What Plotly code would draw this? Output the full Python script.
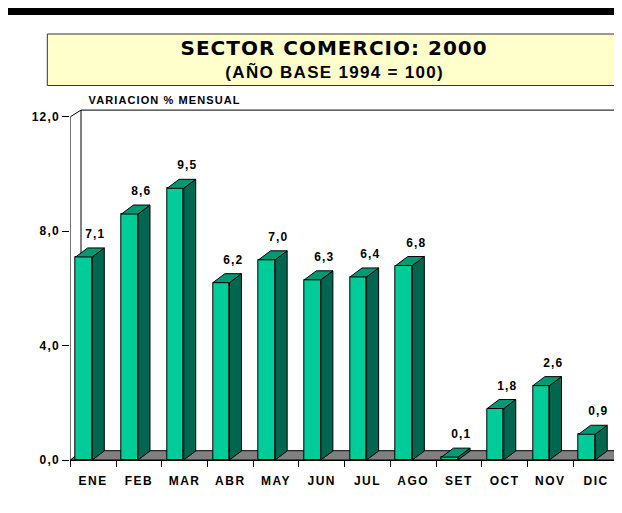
import plotly.graph_objects as go

# ---- data ----
months = ["ENE", "FEB", "MAR", "ABR", "MAY", "JUN", "JUL", "AGO", "SET", "OCT", "NOV", "DIC"]
values = [7.1, 8.6, 9.5, 6.2, 7.0, 6.3, 6.4, 6.8, 0.1, 1.8, 2.6, 0.9]
y_ticks = [0, 4, 8, 12]
y_tick_labels = ["0,0", "4,0", "8,0", "12,0"]

# ---- geometry / style ----
OFF = 8                          # page body margin
WIN_W, WIN_H = 622, 513
W, H = WIN_W - OFF, WIN_H - OFF  # figure size
X0PX, Y0PX = 70.3, 460.0         # window pixel of x=-0.5 and y=0
PX_X, PX_Y = 45.72, 28.6         # pixels per unit
TOPPX = 105.0
x_max = -0.5 + (WIN_W - X0PX) / PX_X
y_max = (Y0PX - TOPPX) / PX_Y


def px(xw):
    return (xw - OFF) / W


def py(yw):
    return (H - (yw - OFF)) / H


F_OFF, F_W = -0.382, 0.363       # front face offset/width
DX, DY = 12 / PX_X, 9 / PX_Y     # bar depth
WDX, WDY = 10.7 / PX_X, 6.7 / PX_Y  # wall depth
FDY = 9.3 / PX_Y                 # floor depth

FRONT, SIDE, TOP = "#00CC99", "#006650", "#009973"
FONT = "Arial, Liberation Sans, sans-serif"
HEAVY = "DejaVu Sans, sans-serif"


def fmt(v):
    return f"{v:.1f}".replace(".", ",")


fig = go.Figure()

# front faces
fig.add_trace(go.Bar(
    x=list(range(len(months))), y=values, offset=F_OFF, width=F_W,
    marker=dict(color=FRONT, line=dict(color="black", width=1)),
    hoverinfo="skip", showlegend=False))

# side and top faces
sx, sy, tx, ty = [], [], [], []
for i, v in enumerate(values):
    x0 = i + F_OFF
    x1 = x0 + F_W
    sx += [x1, x1 + DX, x1 + DX, x1, x1, None]
    sy += [0, DY, v + DY, v, 0, None]
    tx += [x0, x1, x1 + DX, x0 + DX, x0, None]
    ty += [v, v, v + DY, v + DY, v, None]
fig.add_trace(go.Scatter(x=sx, y=sy, mode="lines", fill="toself", fillcolor=SIDE,
                         line=dict(color="black", width=1), hoverinfo="skip", showlegend=False))
fig.add_trace(go.Scatter(x=tx, y=ty, mode="lines", fill="toself", fillcolor=TOP,
                         line=dict(color="black", width=1), hoverinfo="skip", showlegend=False))

# front wall edge, corner diagonal and back top edge
fig.add_trace(go.Scatter(
    x=[-0.5, -0.5, -0.5 + WDX, x_max + 1],
    y=[0, 12, 12 + WDY, 12 + WDY],
    mode="lines", line=dict(color="black", width=1), cliponaxis=False,
    hoverinfo="skip", showlegend=False))

# floor and back vertical edge (behind bars)
shapes = [
    dict(type="path", xref="x", yref="y", layer="below",
         path=f"M -0.5,0 L {x_max + 1},0 L {x_max + 1 + DX},{FDY} L {-0.5 + DX},{FDY} Z",
         fillcolor="#808080", line=dict(color="black", width=1)),
    dict(type="line", xref="x", yref="y", layer="below",
         x0=-0.5 + WDX, x1=-0.5 + WDX, y0=FDY, y1=12 + WDY,
         line=dict(color="black", width=1)),
]

# black bar at top and title box
shapes.append(dict(type="rect", xref="paper", yref="paper",
                   x0=0, x1=1, y0=py(15), y1=1,
                   fillcolor="black", line=dict(width=0)))
shapes.append(dict(type="rect", xref="paper", yref="paper",
                   x0=px(47.3), x1=px(619.3), y0=py(85.5), y1=py(34),
                   fillcolor="#FFFFCC", line=dict(color="#333333", width=1)))

annotations = [
    dict(text="<b>SECTOR COMERCIO: 2000</b>", xref="paper", yref="paper",
         x=px(333.5), y=py(48), xanchor="center", yanchor="middle", showarrow=False,
         font=dict(family=HEAVY, size=20, color="black")),
    dict(text="<b>(AÑO BASE 1994 = 100)</b>", xref="paper", yref="paper",
         x=px(334), y=py(71.5), xanchor="center", yanchor="middle", showarrow=False,
         font=dict(family=FONT, size=17, color="black")),
    dict(text="<b>VARIACION % MENSUAL</b>", xref="paper", yref="paper",
         x=px(97), y=py(100), xanchor="left", yanchor="middle", showarrow=False,
         font=dict(family=FONT, size=11, color="black")),
]
for i, v in enumerate(values):
    annotations.append(dict(text=f"<b>{fmt(v)}</b>", x=i + F_OFF + F_W / 2 + DX, y=v,
                            xref="x", yref="y", yshift=23, showarrow=False,
                            xanchor="center", yanchor="middle",
                            font=dict(family=FONT, size=12, color="black")))

fig.update_layout(
    width=W, height=H, margin=dict(l=0, r=0, t=0, b=0),
    paper_bgcolor="white", plot_bgcolor="rgba(0,0,0,0)",
    shapes=shapes, annotations=annotations, bargap=0,
    xaxis=dict(domain=[px(X0PX), 1], range=[-0.5, x_max], automargin=False,
               tickvals=list(range(len(months))), ticktext=[f"<b>{m}</b>" for m in months],
               ticks="", ticklabelstandoff=10, showgrid=False, zeroline=False,
               showline=True, linecolor="black", linewidth=1,
               tickfont=dict(family=FONT, size=12, color="black"),
               minor=dict(tickvals=[i - 0.5 for i in range(len(months) + 1)],
                          ticks="outside", ticklen=6, tickcolor="black", showgrid=False)),
    yaxis=dict(domain=[py(Y0PX), py(TOPPX)], range=[0, y_max], automargin=False,
               tickvals=y_ticks, ticktext=[f"<b>{t}</b>" for t in y_tick_labels],
               ticks="outside", ticklen=7, tickcolor="black", showgrid=False, zeroline=False,
               showline=False, tickfont=dict(family=FONT, size=12, color="black")),
)

# letter spacing of the original lettering
post_js = """
var gd = document.getElementById('{plot_id}');
function ls(el, v) { if (el) { el.style.letterSpacing = v; } }
gd.querySelectorAll('.xtick text').forEach(function (t) { ls(t, '1.5px'); });
gd.querySelectorAll('.ytick text').forEach(function (t) { ls(t, '1.2px'); });
gd.querySelectorAll('g.annotation').forEach(function (g) {
  var i = +g.getAttribute('data-index');
  var t = g.querySelector('text');
  if (i === 0) { ls(t, '1px'); }
  else if (i === 1) { ls(t, '1.3px'); }
  else if (i === 2) { ls(t, '1.1px'); }
  else { ls(t, '1.2px'); }
});
"""

fig.write_html("out.html", post_script=post_js)
